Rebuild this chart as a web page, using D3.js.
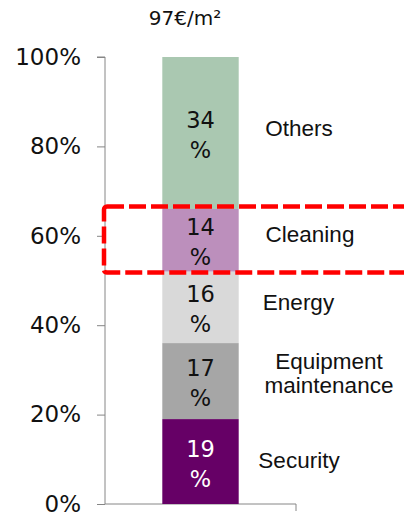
<!DOCTYPE html>
<html>
<head>
<meta charset="utf-8">
<script src="https://cdn.jsdelivr.net/npm/d3@7"></script>
<style>
  body { margin: 0; background: #fff; }
  svg { display: block; }
</style>
</head>
<body>
<svg id="svg1" width="404" height="516"></svg>
<script>
// data, bottom to top
var categories = ["Security", "Equipment maintenance", "Energy", "Cleaning", "Others"];
var shares = [19, 17, 16, 14, 34];
var colors = ["#660066", "#a6a6a6", "#d9d9d9", "#bc8fbc", "#aac8b1"];
var labelColors = ["#ffffff", "#111111", "#111111", "#111111", "#111111"];
var labelLines = [["Security"], ["Equipment", "maintenance"], ["Energy"], ["Cleaning"], ["Others"]];
var yTicks = [0, 0.2, 0.4, 0.6, 0.8, 1];
var title = "97€/m²";
var highlight = "Cleaning";

// label layout (centre x, baseline offset from segment middle)
var labelPos = [[299, 6.5], [329, -12.5], [298.5, 2.5], [310, 2], [299, 3.5]];

var svg = d3.select("svg#svg1");
var margin = { top: 57, right: 108, bottom: 12, left: 105 };
var width = +svg.attr("width") - margin.left - margin.right;
var height = +svg.attr("height") - margin.top - margin.bottom;

var row = { name: "total" };
categories.forEach(function(c, i) { row[c] = shares[i] / 100; });
var series = d3.stack().keys(categories)([row]);

var x = d3.scaleBand()
  .domain(["total"])
  .range([margin.left, margin.left + width])
  .paddingInner(0.6)
  .paddingOuter(0.3);

var y = d3.scaleLinear()
  .domain([0, 1])
  .range([margin.top + height, margin.top]);

// y axis
var yAxis = svg.append("g")
  .attr("transform", "translate(" + margin.left + ",0)")
  .call(d3.axisLeft(y).tickValues(yTicks).tickSize(8).tickPadding(16).tickFormat(d3.format(".0%")));
yAxis.selectAll("path, line").attr("stroke", "#868686");
yAxis.select("path").attr("d", "M-8," + y(1) + "H0V" + y(0));
yAxis.selectAll("text")
  .attr("fill", "#111")
  .style("font-family", "DejaVu Sans")
  .style("font-size", "23px");

// x axis (category axis, no labels)
var xAxis = svg.append("g")
  .attr("transform", "translate(0," + y(0) + ")");
xAxis.append("path")
  .attr("d", "M" + margin.left + ",0H" + (margin.left + width) + "V7")
  .attr("fill", "none")
  .attr("stroke", "#868686");

// stacked bar
var seg = svg.append("g")
  .selectAll("g")
  .data(series)
  .enter()
  .append("g");

seg.append("rect")
  .attr("x", x("total"))
  .attr("width", x.bandwidth())
  .attr("y", function(d) { return y(d[0][1]); })
  .attr("height", function(d) { return y(d[0][0]) - y(d[0][1]); })
  .attr("fill", function(d, i) { return colors[i]; });

// value labels inside the bar
seg.append("text")
  .attr("text-anchor", "middle")
  .attr("fill", function(d, i) { return labelColors[i]; })
  .style("font-family", "DejaVu Sans")
  .style("font-size", "22.5px")
  .each(function(d, i) {
    var mid = (y(d[0][0]) + y(d[0][1])) / 2;
    var t = d3.select(this);
    t.append("tspan")
      .attr("x", x("total") + x.bandwidth() / 2)
      .attr("y", mid - 5)
      .text(shares[i]);
    t.append("tspan")
      .attr("x", x("total") + x.bandwidth() / 2)
      .attr("y", mid + 25)
      .text("%");
  });

// category labels to the right
seg.append("text")
  .attr("text-anchor", "middle")
  .attr("fill", "#111")
  .style("font-family", "Liberation Sans")
  .style("font-size", "22.5px")
  .each(function(d, i) {
    var mid = (y(d[0][0]) + y(d[0][1])) / 2;
    var t = d3.select(this);
    labelLines[i].forEach(function(line, j) {
      t.append("tspan")
        .attr("x", labelPos[i][0])
        .attr("y", mid + labelPos[i][1] + j * 24)
        .text(line);
    });
  });

// title
svg.append("text")
  .attr("x", 185)
  .attr("y", 25)
  .attr("text-anchor", "middle")
  .attr("fill", "#111")
  .style("font-family", "DejaVu Sans")
  .style("font-size", "20px")
  .text(title);

// red dashed highlight around one segment
var hs = series[categories.indexOf(highlight)][0];
svg.append("rect")
  .attr("x", margin.left - 1)
  .attr("y", y(hs[1]) - 2.5)
  .attr("width", 330)
  .attr("height", y(hs[0]) - y(hs[1]) + 3.5)
  .attr("rx", 3)
  .attr("fill", "none")
  .attr("stroke", "#ff0000")
  .attr("stroke-width", 4.5)
  .attr("stroke-dasharray", "17,5");
</script>
</body>
</html>
